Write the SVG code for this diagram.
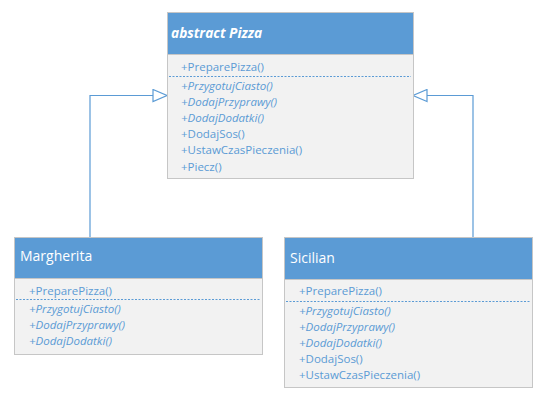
<svg xmlns="http://www.w3.org/2000/svg" width="543" height="398" viewBox="0 0 543 398">
<style>
.hdr{fill:#5b9bd5;stroke:#c6c6c6;stroke-width:1}
.body{fill:#f2f2f2;stroke:#c6c6c6;stroke-width:1}
.title{font-family:"Open Sans",sans-serif;font-size:14px;fill:#ffffff}
.abs{font-weight:bold;font-style:italic;font-size:13.7px}
.m{font-family:"Open Sans",sans-serif;font-size:11.5px;fill:#5b9bd5}
.it{font-style:italic}
.sep{stroke:#5b9bd5;stroke-width:1;stroke-dasharray:2,1.5}
.conn{fill:none;stroke:#5b9bd5;stroke-width:1.2}
</style>
<defs>
<marker id="tri" markerWidth="16" markerHeight="14" refX="15" refY="7" orient="auto" markerUnits="userSpaceOnUse">
<path d="M1,1 L15,7 L1,13 Z" fill="#ffffff" stroke="#5b9bd5" stroke-width="1.2"/>
</marker>
</defs>
<g id="connectors">
<path class="conn" d="M90,237 L90,95.5 L167,95.5" marker-end="url(#tri)"/>
<path class="conn" d="M473,237 L473,95.5 L413,95.5" marker-end="url(#tri)"/>
</g>
<g id="pizza">
<rect class="body" x="167.5" y="12.5" width="246" height="166"/>
<rect class="hdr" x="167.5" y="12.5" width="246" height="42"/>
<text class="title abs" x="171" y="38">abstract Pizza</text>
<text class="m" x="181" y="71">+PreparePizza()</text>
<line class="sep" x1="169" y1="76.5" x2="411" y2="76.5"/>
<text class="m it" x="181" y="90">+PrzygotujCiasto()</text>
<text class="m it" x="181" y="106">+DodajPrzyprawy()</text>
<text class="m it" x="181" y="122">+DodajDodatki()</text>
<text class="m" x="181" y="138">+DodajSos()</text>
<text class="m" x="181" y="154">+UstawCzasPieczenia()</text>
<text class="m" x="181" y="171">+Piecz()</text>
</g>
<g id="margherita">
<rect class="body" x="14.5" y="237.5" width="248" height="117"/>
<rect class="hdr" x="14.5" y="237.5" width="248" height="41"/>
<text class="title" x="20" y="261">Margherita</text>
<text class="m" x="29" y="295">+PreparePizza()</text>
<line class="sep" x1="16" y1="299.5" x2="260" y2="299.5"/>
<text class="m it" x="29" y="313">+PrzygotujCiasto()</text>
<text class="m it" x="29" y="329">+DodajPrzyprawy()</text>
<text class="m it" x="29" y="345">+DodajDodatki()</text>
</g>
<g id="sicilian">
<rect class="body" x="284.5" y="237.5" width="248" height="150"/>
<rect class="hdr" x="284.5" y="237.5" width="248" height="42"/>
<text class="title" x="290" y="263">Sicilian</text>
<text class="m" x="299" y="295">+PreparePizza()</text>
<line class="sep" x1="286" y1="301.5" x2="530" y2="301.5"/>
<text class="m it" x="299" y="315">+PrzygotujCiasto()</text>
<text class="m it" x="299" y="331">+DodajPrzyprawy()</text>
<text class="m it" x="299" y="347">+DodajDodatki()</text>
<text class="m" x="299" y="363">+DodajSos()</text>
<text class="m" x="299" y="379">+UstawCzasPieczenia()</text>
</g>
</svg>
